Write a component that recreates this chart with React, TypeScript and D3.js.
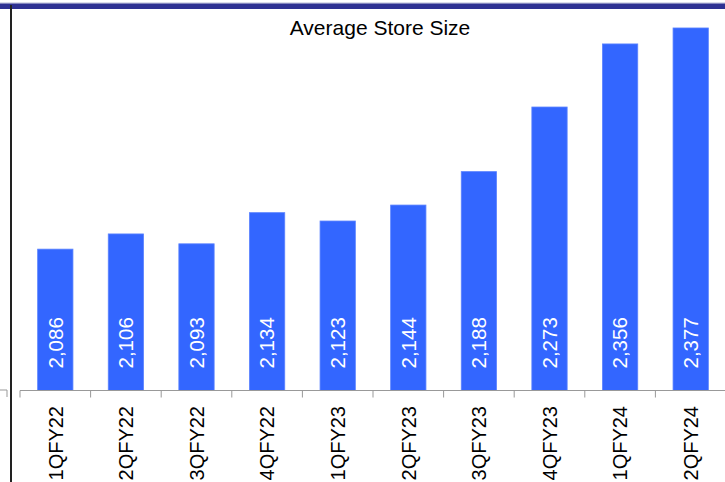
import React from "react";
import * as d3 from "d3";

const categories = ["1QFY22","2QFY22","3QFY22","4QFY22","1QFY23","2QFY23","3QFY23","4QFY23","1QFY24","2QFY24"];
const values = [2086, 2106, 2093, 2134, 2123, 2144, 2188, 2273, 2356, 2377];
const chartTitle = "Average Store Size";
const yDomain = [1900, 2400];

const W = 725, H = 482;
const FONT = "'Liberation Sans', Arial, Helvetica, sans-serif";

export default function App() {
  const x = d3.scaleBand<string>().domain(categories).range([20, 726]).paddingInner(0.5).paddingOuter(0.25);
  const y = d3.scaleLinear().domain(yDomain).range([390.5, 10.5]);
  const step = x.step();
  const x0 = 20;
  const fmt = d3.format(",");
  const baseY = y(yDomain[0]);
  return (
    <svg width={W} height={H} style={{ position: "absolute", left: 0, top: 0, background: "#fff" }} fontFamily={FONT}>
      <rect x={0} y={0} width={W} height={H} fill="#fff" />
      {/* header band */}
      <rect x={0} y={2.5} width={W} height={1} fill="#b8bbd8" />
      <rect x={0} y={3.5} width={W} height={5.5} fill="#2e3192" />
      {/* left vertical rule */}
      <rect x={10} y={5} width={2} height={H - 5} fill="#222" />
      {/* left stray tick */}
      <path d="M0,390H7V397" fill="none" stroke="#999" strokeWidth={1} />
      <text x={380} y={35} textAnchor="middle" fontSize={21} fill="#000">{chartTitle}</text>
      {categories.map((c, i) => {
        const bx = x(c)!;
        const by = y(values[i]);
        const cx = bx + x.bandwidth() / 2;
        return (
          <g key={c}>
            <rect x={bx} y={by} width={x.bandwidth()} height={baseY - by} fill="#3366ff" stroke="#5b83ff" strokeWidth={0.8} />
            <text transform={`translate(${cx},${baseY - 22}) rotate(-90)`} textAnchor="start" dy="0.36em" fontSize={20.5} fill="#fff">{fmt(values[i])}</text>
            <text transform={`translate(${cx},${baseY + 15.5}) rotate(-90)`} textAnchor="end" dy="0.36em" fontSize={20} fill="#000">{c}</text>
          </g>
        );
      })}
      <line x1={x0} x2={W} y1={baseY} y2={baseY} stroke="#999" strokeWidth={1} />
      {d3.range(categories.length + 1).map(i => (
        <line key={i} x1={x0 + i * step} x2={x0 + i * step} y1={baseY} y2={baseY + 7} stroke="#999" strokeWidth={1} />
      ))}
    </svg>
  );
}
